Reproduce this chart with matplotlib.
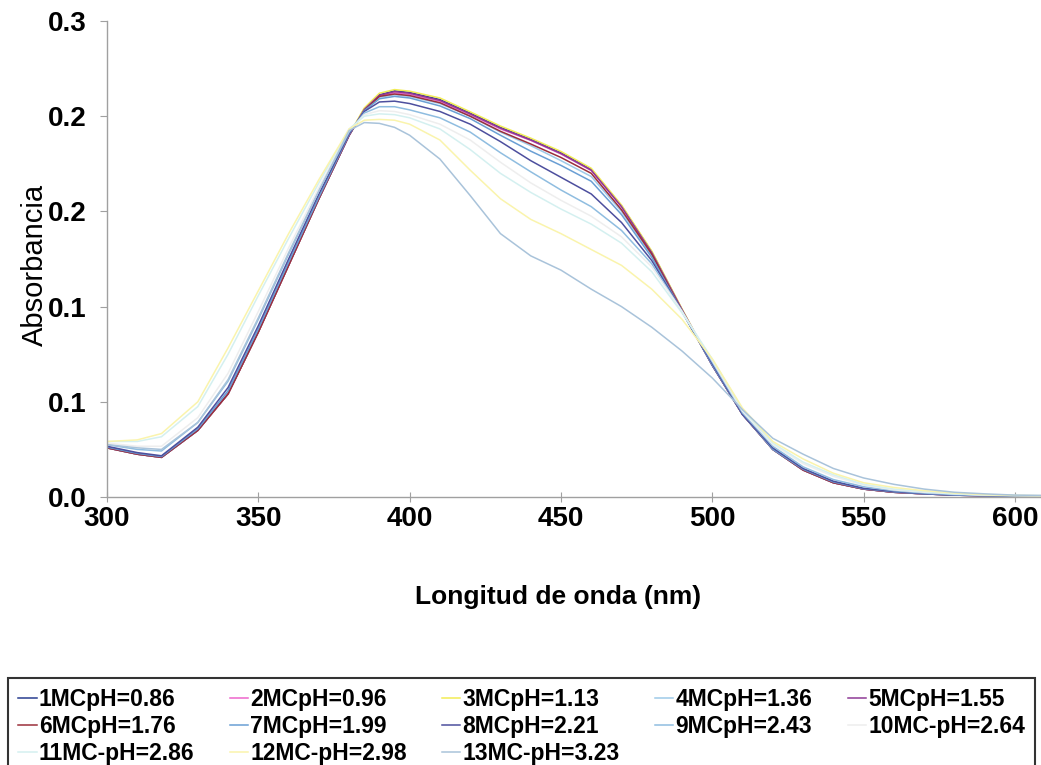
import numpy as np
import matplotlib.pyplot as plt
from matplotlib.ticker import FormatStrFormatter

plt.rcParams['font.family'] = ['Liberation Sans', 'DejaVu Sans']

wavelength = [300, 310, 318, 330, 340, 350, 360, 370, 380, 385, 390, 395, 400, 410, 420, 430, 440,
              450, 460, 470, 480, 490, 500, 510, 520, 530, 540, 550, 560, 570, 580, 590, 600, 610]

labels = ['1MCpH=0.86', '2MCpH=0.96', '3MCpH=1.13', '4MCpH=1.36', '5MCpH=1.55',
          '6MCpH=1.76', '7MCpH=1.99', '8MCpH=2.21', '9MCpH=2.43', '10MC-pH=2.64',
          '11MC-pH=2.86', '12MC-pH=2.98', '13MC-pH=3.23']

colors = ['#283d8f', '#ee66cc', '#f2ec55', '#9ecae8', '#8e3a96',
          '#9b2f3a', '#6a9fd4', '#4d4f9e', '#8fbde0', '#eeeeee',
          '#d4f0f0', '#faf4ac', '#a9c3da']

# Absorbance per sample
abs_1 = [0.031, 0.027, 0.025, 0.042, 0.065, 0.104, 0.146, 0.188, 0.228, 0.2445, 0.2535, 0.256, 0.255, 0.2505, 0.242, 0.233,
         0.2255, 0.217, 0.2065, 0.1835, 0.1545, 0.118, 0.083, 0.052, 0.030, 0.017, 0.009, 0.005, 0.003, 0.002, 0.0012, 0.0008, 0.0006, 0.0005]
abs_2 = [0.031, 0.027, 0.025, 0.042, 0.065, 0.104, 0.146, 0.188, 0.228, 0.244, 0.2528, 0.2548, 0.2538, 0.2495, 0.241, 0.232,
         0.2248, 0.2162, 0.2058, 0.183, 0.154, 0.118, 0.083, 0.052, 0.030, 0.017, 0.009, 0.005, 0.003, 0.002, 0.0012, 0.0008, 0.0006, 0.0005]
abs_3 = [0.031, 0.027, 0.025, 0.042, 0.065, 0.104, 0.146, 0.188, 0.2285, 0.2452, 0.2545, 0.2568, 0.2558, 0.2515, 0.2428, 0.2338,
         0.2262, 0.2178, 0.2072, 0.184, 0.155, 0.1185, 0.0832, 0.052, 0.030, 0.017, 0.009, 0.005, 0.003, 0.002, 0.0012, 0.0008, 0.0006, 0.0005]
abs_4 = [0.031, 0.027, 0.025, 0.042, 0.066, 0.105, 0.147, 0.188, 0.228, 0.2435, 0.252, 0.2535, 0.2525, 0.248, 0.240, 0.230,
         0.2215, 0.212, 0.202, 0.180, 0.152, 0.117, 0.083, 0.052, 0.030, 0.017, 0.009, 0.005, 0.003, 0.002, 0.0012, 0.0008, 0.0006, 0.0005]
abs_5 = [0.031, 0.027, 0.025, 0.042, 0.065, 0.104, 0.146, 0.188, 0.228, 0.2442, 0.2532, 0.2555, 0.2545, 0.250, 0.2415, 0.2325,
         0.225, 0.2165, 0.206, 0.183, 0.154, 0.118, 0.083, 0.052, 0.030, 0.017, 0.009, 0.005, 0.003, 0.002, 0.0012, 0.0008, 0.0006, 0.0005]
abs_6 = [0.031, 0.027, 0.025, 0.042, 0.065, 0.104, 0.146, 0.188, 0.228, 0.2435, 0.2525, 0.254, 0.253, 0.2485, 0.240, 0.2305,
         0.2225, 0.214, 0.204, 0.181, 0.153, 0.117, 0.083, 0.052, 0.030, 0.017, 0.009, 0.005, 0.003, 0.002, 0.0012, 0.0008, 0.0006, 0.0005]
abs_7 = [0.0315, 0.0275, 0.0255, 0.043, 0.067, 0.106, 0.148, 0.189, 0.2285, 0.2435, 0.251, 0.2525, 0.2515, 0.2465, 0.2385, 0.228,
         0.218, 0.209, 0.199, 0.178, 0.151, 0.117, 0.083, 0.052, 0.030, 0.0175, 0.0095, 0.0052, 0.0032, 0.002, 0.0012, 0.0008, 0.0006, 0.0005]
abs_8 = [0.032, 0.028, 0.026, 0.044, 0.069, 0.108, 0.150, 0.191, 0.229, 0.243, 0.249, 0.2495, 0.248, 0.243, 0.235, 0.224,
         0.212, 0.2015, 0.191, 0.173, 0.149, 0.117, 0.084, 0.052, 0.031, 0.018, 0.010, 0.0055, 0.0035, 0.0022, 0.0013, 0.0009, 0.0007, 0.0005]
abs_9 = [0.033, 0.030, 0.029, 0.047, 0.073, 0.112, 0.153, 0.193, 0.230, 0.242, 0.246, 0.246, 0.244, 0.239, 0.230, 0.217,
         0.205, 0.1935, 0.183, 0.168, 0.147, 0.117, 0.085, 0.053, 0.032, 0.019, 0.011, 0.0065, 0.004, 0.0025, 0.0015, 0.001, 0.0008, 0.0006]
abs_10 = [0.034, 0.032, 0.032, 0.050, 0.078, 0.117, 0.157, 0.195, 0.231, 0.241, 0.2435, 0.243, 0.241, 0.235, 0.225, 0.211,
          0.198, 0.187, 0.177, 0.164, 0.145, 0.117, 0.086, 0.054, 0.033, 0.021, 0.013, 0.0075, 0.0045, 0.003, 0.002, 0.0012, 0.0009, 0.0007]
abs_11 = [0.035, 0.035, 0.038, 0.057, 0.090, 0.127, 0.163, 0.198, 0.232, 0.240, 0.2415, 0.241, 0.239, 0.232, 0.219, 0.204,
          0.192, 0.1815, 0.172, 0.160, 0.142, 0.116, 0.087, 0.055, 0.034, 0.022, 0.014, 0.008, 0.005, 0.0035, 0.002, 0.0013, 0.001, 0.0008]
abs_12 = [0.035, 0.036, 0.040, 0.060, 0.094, 0.130, 0.166, 0.200, 0.232, 0.2375, 0.238, 0.2375, 0.235, 0.225, 0.206, 0.188,
          0.175, 0.166, 0.156, 0.146, 0.131, 0.112, 0.087, 0.056, 0.035, 0.024, 0.015, 0.009, 0.006, 0.004, 0.0025, 0.0015, 0.001, 0.0008]
abs_13 = [0.033, 0.031, 0.030, 0.047, 0.074, 0.113, 0.154, 0.193, 0.231, 0.236, 0.2355, 0.233, 0.228, 0.213, 0.190, 0.166,
          0.152, 0.143, 0.131, 0.120, 0.107, 0.092, 0.075, 0.055, 0.037, 0.027, 0.018, 0.012, 0.008, 0.005, 0.003, 0.002, 0.0012, 0.001]

series = [abs_1, abs_2, abs_3, abs_4, abs_5, abs_6, abs_7, abs_8, abs_9, abs_10, abs_11, abs_12, abs_13]

fig = plt.figure(figsize=(10.41, 7.65), dpi=100)
ax = fig.add_axes([0.1028, 0.3503, 0.8972, 0.6222])

lines = []
for values, label, color in zip(series, labels, colors):
    line, = ax.plot(wavelength, values, color=color, lw=1.1, label=label)
    lines.append(line)

ax.set_xlim(300, 608.6)
ax.set_ylim(0, 0.3)
ax.set_xticks(np.arange(300, 601, 50))
ax.set_yticks(np.arange(0, 0.301, 0.06))
ax.yaxis.set_major_formatter(FormatStrFormatter('%.1f'))

# Only left and bottom axis lines, grey like the original
for side in ['top', 'right']:
    ax.spines[side].set_visible(False)
for side in ['left', 'bottom']:
    ax.spines[side].set_color('#a0a0a0')
    ax.spines[side].set_linewidth(1.0)
ax.tick_params(axis='x', direction='inout', length=7, color='#a0a0a0', labelsize=20, pad=3)
ax.tick_params(axis='y', direction='out', length=5, color='#a0a0a0', labelsize=20, pad=10)
for t in ax.get_xticklabels() + ax.get_yticklabels():
    t.set_fontweight('bold')

ax.set_xlabel('Longitud de onda (nm)', fontsize=19, fontweight='bold')
ax.xaxis.set_label_coords(0.483, -0.185)
ax.set_ylabel('Absorbancia', fontsize=21)
ax.yaxis.set_label_coords(-0.062, 0.487)

# Legend filled row by row (matplotlib fills columns first, so reorder)
order = [0, 5, 10, 1, 6, 11, 2, 7, 12, 3, 8, 4, 9]
leg = fig.legend([lines[i] for i in order], [labels[i] for i in order], ncol=5,
                 loc='upper left', bbox_to_anchor=(0.0077, 0.0, 0.987, 0.1137), mode='expand',
                 frameon=True, fancybox=False, edgecolor='black', borderaxespad=0,
                 prop={'weight': 'bold', 'size': 16.5}, handlelength=0.8, handletextpad=0.1,
                 labelspacing=0.17, borderpad=0.45, columnspacing=1.0)
leg.get_frame().set_linewidth(1.5)

plt.savefig('out.png', dpi=100)
plt.close(fig)
